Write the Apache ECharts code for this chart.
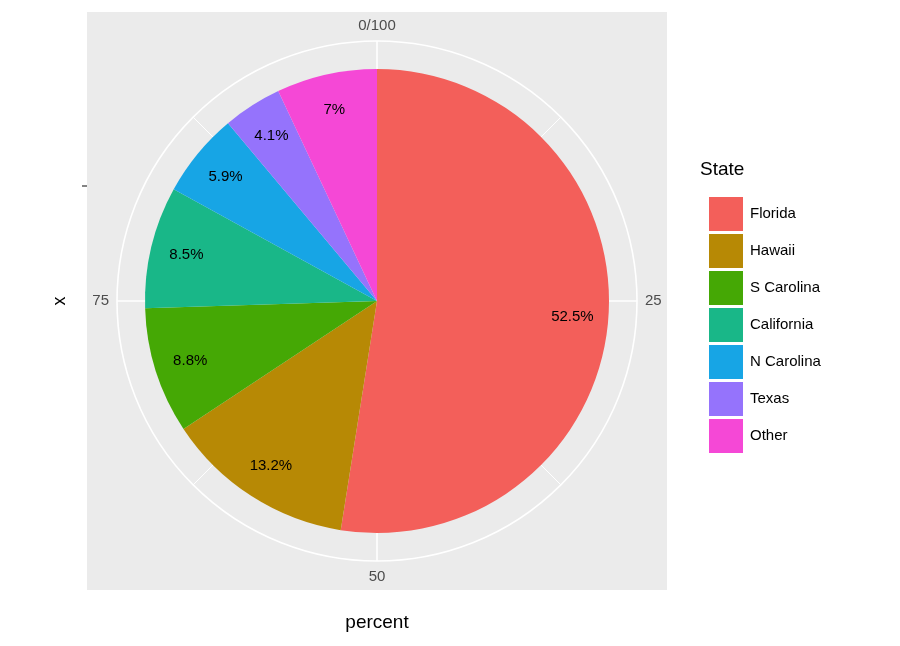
<!DOCTYPE html>
<html>
<head>
<meta charset="UTF-8">
<script src="https://cdn.jsdelivr.net/npm/echarts/dist/echarts.min.js"></script>
<style>html,body{margin:0;background:#fff}</style>
</head>
<body>
<div id="chart" style="width:900px;height:646px;"></div>
<script>
var states = ['Florida', 'Hawaii', 'S Carolina', 'California', 'N Carolina', 'Texas', 'Other'];
var percents = [52.5, 13.2, 8.8, 8.5, 5.9, 4.1, 7];
var labels = ['52.5%', '13.2%', '8.8%', '8.5%', '5.9%', '4.1%', '7%'];
var colors = ['#F35F5A', '#B78905', '#45A805', '#19B788', '#17A5E5', '#9573FC', '#F548D6'];

var chart = echarts.init(document.getElementById('chart'));
var cx = 377, cy = 301;

chart.setOption({
    animation: false,
    color: colors,
    graphic: [
        { type: 'rect', z: -10, shape: { x: 87, y: 12, width: 580, height: 578 }, style: { fill: '#ebebeb' } },
        { type: 'line', shape: { x1: 82, y1: 186, x2: 87, y2: 186 }, style: { stroke: '#333', lineWidth: 1.2 } },
        { type: 'text', x: 60, y: 301, rotation: Math.PI / 2, style: { text: 'x', font: '18px Liberation Sans', fill: '#000', align: 'center', verticalAlign: 'middle' } },
        { type: 'text', x: 377, y: 623, style: { text: 'percent', font: '19px Liberation Sans', fill: '#000', align: 'center', verticalAlign: 'middle' } },
        { type: 'text', x: 700, y: 170, style: { text: 'State', font: '19px Liberation Sans', fill: '#000', verticalAlign: 'middle' } }
    ],
    polar: { center: [cx, cy], radius: 260 },
    angleAxis: {
        type: 'value', min: 0, max: 100, interval: 25, startAngle: 90, clockwise: true,
        axisLine: { show: true, lineStyle: { color: '#fff', width: 1.6 } },
        axisTick: { show: false },
        axisLabel: {
            margin: 8, color: '#4d4d4d', fontSize: 15, fontFamily: 'Liberation Sans',
            formatter: function (v) { return v === 0 ? '0/100' : (v === 100 ? '' : String(v)); }
        },
        splitLine: { show: true, lineStyle: { color: '#fff', width: 1.6 } },
        minorTick: { show: false, splitNumber: 2 },
        minorSplitLine: { show: true, lineStyle: { color: '#fff', width: 1 } }
    },
    radiusAxis: { type: 'value', show: false, min: 0, max: 1, splitLine: { show: false }, axisLine: { show: false } },
    legend: {
        orient: 'vertical', left: 704, top: 192, itemWidth: 34, itemHeight: 34, itemGap: 3,
        icon: 'rect', data: states, selectedMode: false,
        textStyle: { fontSize: 15, fontFamily: 'Liberation Sans', color: '#000', padding: [0, 0, 0, 2] }
    },
    series: [
        {
            type: 'pie', center: [cx, cy], radius: [0, 232], startAngle: 90, clockwise: true, z: 3,
            label: { show: false }, labelLine: { show: false }, silent: true,
            data: states.map(function (s, i) { return { name: s, value: percents[i] }; })
        },
        {
            type: 'pie', center: [cx, cy], radius: [154, 232], startAngle: 90, clockwise: true, z: 4,
            silent: true, legendHoverLink: false,
            itemStyle: { color: 'rgba(0,0,0,0)' },
            label: {
                show: true, position: 'inside', color: '#000', fontSize: 15, fontFamily: 'Liberation Sans',
                formatter: function (p) { return labels[p.dataIndex]; }
            },
            data: states.map(function (s, i) { return { name: s + ' ', value: percents[i] }; })
        }
    ]
});
</script>
</body>
</html>
